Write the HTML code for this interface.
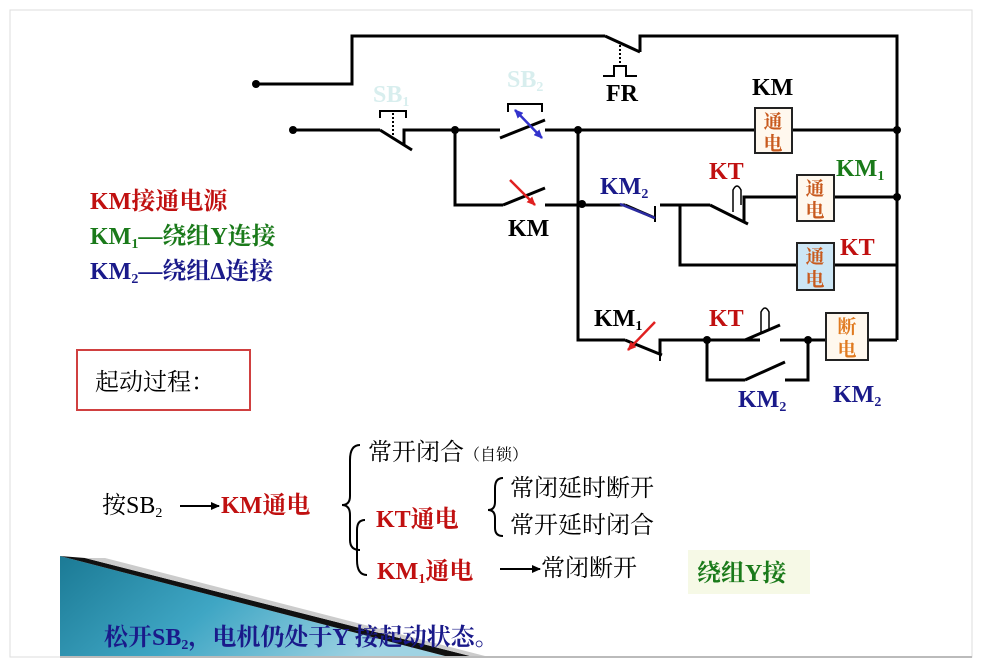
<!DOCTYPE html>
<html><head><meta charset="utf-8"><style>
body{margin:0;background:#fff}
svg{display:block}
text{font-family:"Liberation Serif","Noto Serif CJK SC",serif}
</style></head><body>
<svg width="982" height="662" viewBox="0 0 982 662" xmlns="http://www.w3.org/2000/svg">
<defs>
<linearGradient id="tg" x1="0" y1="0" x2="1" y2="0.3">
<stop offset="0" stop-color="#1b7a95"/><stop offset="0.5" stop-color="#3fa6c4"/><stop offset="1" stop-color="#9fd3e3"/></linearGradient>
<marker id="ab" markerUnits="userSpaceOnUse" markerWidth="9" markerHeight="8" refX="8" refY="4" orient="auto-start-reverse"><path d="M0,0 L9,4 L0,8z" fill="#3333cc"/></marker>
<marker id="ar" markerUnits="userSpaceOnUse" markerWidth="9" markerHeight="8" refX="8" refY="4" orient="auto"><path d="M0,0 L9,4 L0,8z" fill="#e02020"/></marker>
<marker id="ak" markerUnits="userSpaceOnUse" markerWidth="9" markerHeight="8" refX="8" refY="4" orient="auto"><path d="M0,0 L9,4 L0,8z" fill="#000"/></marker>
</defs>
<rect x="0" y="0" width="982" height="662" fill="#fff"/>
<rect x="10" y="10" width="962" height="647" fill="none" stroke="#ddd"/>
<polygon points="60,556 445,656 60,656" fill="url(#tg)"/>
<polygon points="60,556 85,558 470,656 445,656" fill="#111"/>
<polygon points="85,558 470,656 485,656 105,558" fill="#ccc"/>
<line x1="60" y1="657" x2="972" y2="657" stroke="#bbb" stroke-width="2"/>
<g stroke="#000" stroke-width="3" fill="none">
<polyline points="256,84 352,84 352,36 605,36"/>
<line x1="605" y1="36" x2="640" y2="52"/>
<polyline points="640,52 640,36 897,36 897,340"/>
<polyline points="293,130 380,130"/>
<line x1="380" y1="130" x2="412" y2="150"/>
<polyline points="404,146 404,130 500,130"/>
<line x1="500" y1="138" x2="545" y2="120"/>
<polyline points="545,130 755,130"/>
<polyline points="792,130 897,130"/>
<polyline points="455,130 455,205 503,205"/>
<line x1="503" y1="205" x2="545" y2="188"/>
<polyline points="545,205 625,205"/>
<line x1="625" y1="205" x2="655" y2="218"/>
<polyline points="660,205 710,205"/>
<line x1="710" y1="205" x2="748" y2="224"/>
<polyline points="744,222 744,197 797,197"/>
<polyline points="834,197 897,197"/>
<polyline points="680,205 680,265 797,265"/>
<polyline points="834,265 897,265"/>
<polyline points="578,130 578,340 625,340"/>
<line x1="625" y1="340" x2="662" y2="355"/>
<polyline points="660,355 660,340 760,340"/>
<line x1="745" y1="340" x2="780" y2="325"/>
<polyline points="780,340 826,340"/>
<polyline points="868,340 897,340"/>
<polyline points="707,340 707,380 745,380"/>
<line x1="745" y1="380" x2="785" y2="362"/>
<polyline points="785,380 808,380 808,340"/>
</g>
<g stroke="#000" stroke-width="2" fill="none">
<line x1="393" y1="113" x2="393" y2="140" stroke-dasharray="2,2"/>
<polyline points="380,118 380,111 406,111 406,118"/>
<polyline points="508,112 508,104 542,104 542,112"/>
<line x1="620" y1="45" x2="620" y2="64" stroke-dasharray="2,2"/>
<polyline points="603,76 614,76 614,66 626,66 626,76 637,76"/>
<line x1="655" y1="206" x2="655" y2="222"/>
<line x1="660" y1="343" x2="660" y2="361"/>
<path d="M733,212 L733,190 Q737,182 741,190 L741,205" stroke-width="1.5"/>
<path d="M761,333 L761,312 Q765,304 769,312 L769,330" stroke-width="1.5"/>
</g>
<g fill="#000">
<circle cx="256" cy="84" r="4"/><circle cx="293" cy="130" r="4"/><circle cx="455" cy="130" r="4"/>
<circle cx="578" cy="130" r="4"/><circle cx="897" cy="130" r="4"/><circle cx="582" cy="204" r="4"/>
<circle cx="897" cy="197" r="4"/><circle cx="707" cy="340" r="4"/><circle cx="808" cy="340" r="4"/>
</g>
<line x1="515" y1="110" x2="542" y2="138" stroke="#3333cc" stroke-width="2.5" marker-start="url(#ab)" marker-end="url(#ab)"/>
<line x1="510" y1="180" x2="535" y2="205" stroke="#e02020" stroke-width="2.5" marker-end="url(#ar)"/>
<line x1="655" y1="322" x2="628" y2="350" stroke="#e02020" stroke-width="2.5" marker-end="url(#ar)"/>
<line x1="620" y1="204" x2="655" y2="218" stroke="#2a2aa0" stroke-width="2.5"/>
<g stroke="#222" stroke-width="2" font-size="19" font-weight="bold" fill="#c85a1e" text-anchor="middle">
<rect x="755" y="108" width="37" height="45" fill="#fff8ee"/>
<text x="773" y="128" stroke="none">通</text><text x="773" y="150" stroke="none">电</text>
<rect x="797" y="175" width="37" height="46" fill="#fff8ee"/>
<text x="815" y="195" stroke="none">通</text><text x="815" y="217" stroke="none">电</text>
<rect x="797" y="243" width="37" height="47" fill="#cde6f5"/>
<text x="815" y="263" stroke="none">通</text><text x="815" y="286" stroke="none">电</text>
<rect x="826" y="313" width="42" height="47" fill="#fff8ee"/>
<text x="847" y="333" stroke="none" fill="#e07a20">断</text><text x="847" y="356" stroke="none" fill="#e07a20">电</text>
</g>
<g font-weight="bold" font-size="24">
<text x="373" y="102" fill="#d8eeee">SB<tspan font-size="14" dy="4">1</tspan></text>
<text x="507" y="87" fill="#d8eeee">SB<tspan font-size="14" dy="4">2</tspan></text>
<text x="606" y="101" fill="#000">FR</text>
<text x="752" y="95" fill="#000">KM</text>
<text x="508" y="236" fill="#000">KM</text>
<text x="600" y="194" fill="#1a1a8a">KM<tspan font-size="14" dy="4">2</tspan></text>
<text x="709" y="179" fill="#c01010">KT</text>
<text x="836" y="176" fill="#1a7a1a">KM<tspan font-size="14" dy="4">1</tspan></text>
<text x="840" y="255" fill="#c01010">KT</text>
<text x="594" y="326" fill="#000">KM<tspan font-size="14" dy="4">1</tspan></text>
<text x="709" y="326" fill="#c01010">KT</text>
<text x="738" y="407" fill="#1a1a8a">KM<tspan font-size="14" dy="4">2</tspan></text>
<text x="833" y="402" fill="#1a1a8a">KM<tspan font-size="14" dy="4">2</tspan></text>
<text x="90" y="209" fill="#c01010">KM接通电源</text>
<text x="90" y="244" fill="#1a7a1a">KM<tspan font-size="14" dy="4">1</tspan><tspan dy="-4">—绕组Y连接</tspan></text>
<text x="90" y="279" fill="#1a1a8a">KM<tspan font-size="14" dy="4">2</tspan><tspan dy="-4">—绕组Δ连接</tspan></text>
</g>
<rect x="77" y="350" width="173" height="60" fill="none" stroke="#d04040" stroke-width="2"/>
<text x="95" y="390" font-size="24">起动过程：</text>
<g font-size="24">
<text x="368" y="460">常开闭合<tspan font-size="16">（自锁）</tspan></text>
<text x="102" y="513">按SB<tspan font-size="14" dy="4">2</tspan></text>
<line x1="180" y1="506" x2="219" y2="506" stroke="#000" stroke-width="2" marker-end="url(#ak)"/>
<text x="221" y="513" font-weight="bold" fill="#c01010">KM通电</text>
<path d="M360,445 Q350,445 350,460 L350,496 Q350,505 342,505 Q350,505 350,515 L350,540 Q350,550 360,550" fill="none" stroke="#000" stroke-width="2"/>
<path d="M365,520 Q357,520 357,530 L357,560 Q357,575 367,575" fill="none" stroke="#000" stroke-width="2"/>
<text x="376" y="527" font-weight="bold" fill="#c01010">KT通电</text>
<path d="M503,478 Q495,478 495,488 L495,502 Q495,510 488,510 Q495,510 495,518 L495,528 Q495,536 503,536" fill="none" stroke="#000" stroke-width="2"/>
<text x="510" y="496">常闭延时断开</text>
<text x="510" y="533">常开延时闭合</text>
<text x="377" y="579" font-weight="bold" fill="#c01010">KM<tspan font-size="14" dy="4">1</tspan><tspan dy="-4">通电</tspan></text>
<line x1="500" y1="569" x2="540" y2="569" stroke="#000" stroke-width="2" marker-end="url(#ak)"/>
<text x="541" y="576">常闭断开</text>
<rect x="688" y="550" width="122" height="44" fill="#f6f9e6"/>
<text x="697" y="581" font-weight="bold" fill="#1a7a1a">绕组Y接</text>
<text x="104" y="645" font-weight="bold" fill="#1a1a8a">松开SB<tspan font-size="14" dy="4">2</tspan><tspan dy="-4">，电机仍处于Y 接起动状态。</tspan></text>
</g>
</svg>
</body></html>
